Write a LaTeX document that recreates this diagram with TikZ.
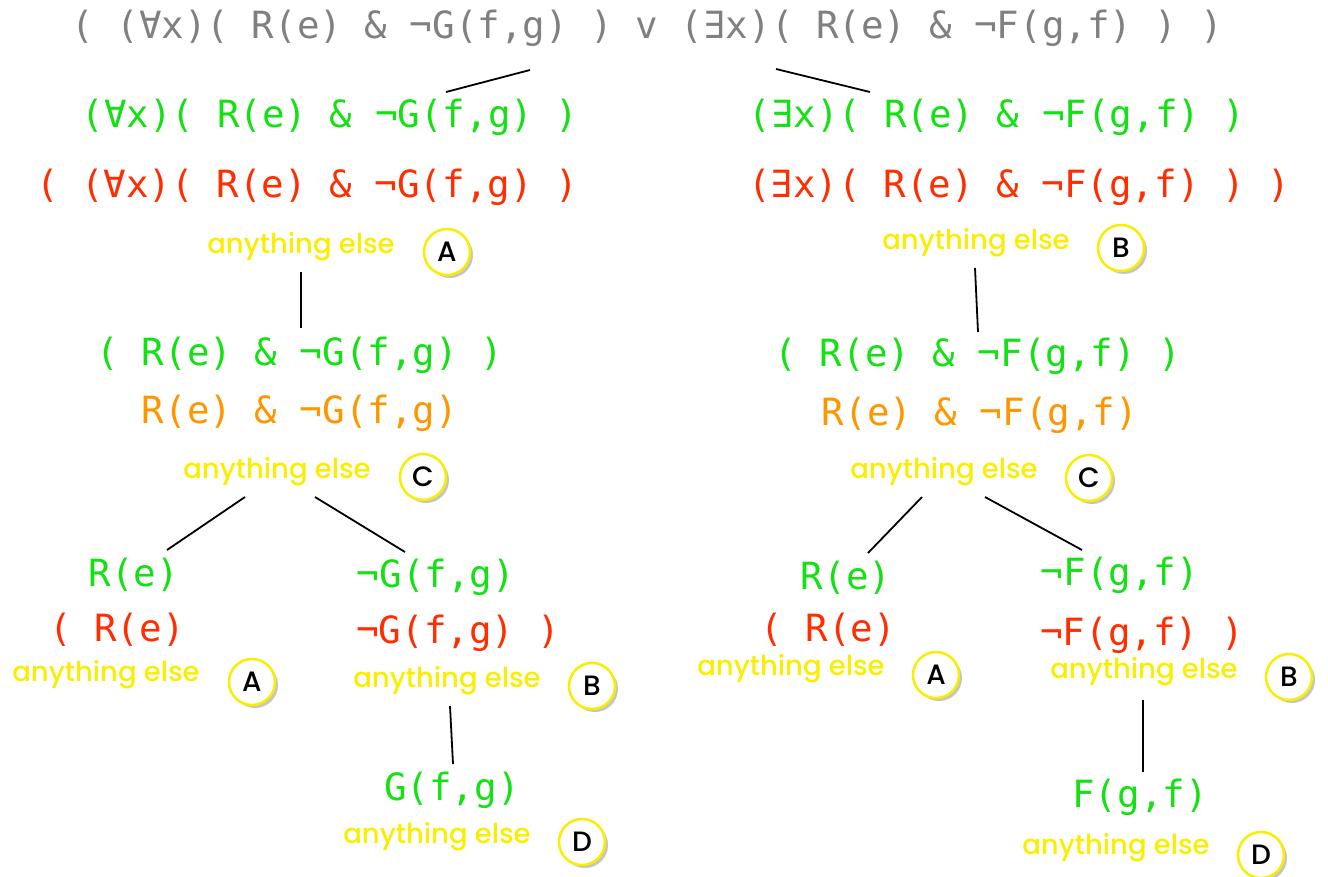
\documentclass[tikz,border=0pt]{standalone}
\usepackage{fontspec}
\setmonofont{DejaVu Sans Mono}
\setsansfont{Poppins Medium}
\usepackage{tikz}
\usetikzlibrary{calc,shadows}
\definecolor{fgray}{RGB}{128,128,128}
\definecolor{fgreen}{RGB}{20,225,20}
\definecolor{fred}{RGB}{255,45,0}
\definecolor{forange}{RGB}{255,150,0}
\definecolor{fyellow}{RGB}{250,238,0}

\begin{document}
\begin{tikzpicture}[
  x=1pt, y=-1pt,
  % -- formula styles --------------------------------------
  formula/.style={inner sep=0pt,
    font=\ttfamily\fontsize{37.5}{40}\selectfont},
  whole/.style={formula, text=fgray},
  goal/.style={formula, text=fgreen},
  rest/.style={formula, text=fred},
  inner/.style={formula, text=forange},
  % -- fallback label and badge ----------------------------
  other/.style={inner sep=0pt, text=fyellow,
    font=\sffamily\fontsize{27.5}{30}\selectfont},
  badge/.style={circle, draw=fyellow, line width=2.5pt, fill=white,
    minimum size=46pt, inner sep=0pt,
    font=\sffamily\fontsize{28}{30}\selectfont,
    drop shadow={shadow xshift=3pt, shadow yshift=-3pt, fill=black!45}},
  % -- tree edges ------------------------------------------
  edge/.style={draw=black, line width=1.8pt},
]
\useasboundingbox (0,0) rectangle (1328,876);

%% -- WHOLE FORMULA -------------------------------------------
\node[whole] (top) at (647,28)
  {( (∀x)( R(e) \& ¬G(f,g) ) v (∃x)( R(e) \& ¬F(g,f) ) )};

%% -- LEFT BRANCH ---------------------------------------------
\node[goal]  (gL)  at (330,117) {(∀x)( R(e) \& ¬G(f,g) )};
\node[rest]  (rL)  at (307,187) {( (∀x)( R(e) \& ¬G(f,g) )};
\node[other] (oL)  at (301,247) {anything else};
\node[badge] (bL)  at (447,252) {A};

\node[goal]  (gL2) at (300,355) {( R(e) \& ¬G(f,g) )};
\node[inner] (iL2) at (300,413) {R(e) \& ¬G(f,g)};
\node[other] (oL2) at (277,472) {anything else};
\node[badge] (bL2) at (423,477) {C};

% R(e) leaf
\node[goal]  (gLa) at (134,575) {R(e)};
\node[rest]  (rLa) at (117,630) {( R(e)};
\node[other] (oLa) at (106,675) {anything else};
\node[badge] (bLa) at (252,682) {A};
% negated G leaf
\node[goal]  (gLb) at (436,577) {¬G(f,g)};
\node[rest]  (rLb) at (458,633) {¬G(f,g) )};
\node[other] (oLb) at (447,681) {anything else};
\node[badge] (bLb) at (592,686) {B};
\node[goal]  (gLc) at (452,790) {G(f,g)};
\node[other] (oLc) at (437,837) {anything else};
\node[badge] (bLc) at (582,842) {D};

%% -- RIGHT BRANCH --------------------------------------------
\node[goal]  (gR)  at (997,117) {(∃x)( R(e) \& ¬F(g,f) )};
\node[rest]  (rR)  at (1019,187) {(∃x)( R(e) \& ¬F(g,f) ) )};
\node[other] (oR)  at (976,243) {anything else};
\node[badge] (bR)  at (1121,248) {B};

\node[goal]  (gR2) at (978,356) {( R(e) \& ¬F(g,f) )};
\node[inner] (iR2) at (980,415) {R(e) \& ¬F(g,f)};
\node[other] (oR2) at (944,472) {anything else};
\node[badge] (bR2) at (1089,478) {C};

% R(e) leaf
\node[goal]  (gRa) at (846,578) {R(e)};
\node[rest]  (rRa) at (828,630) {( R(e)};
\node[other] (oRa) at (791,669) {anything else};
\node[badge] (bRa) at (936,675) {A};
% negated F leaf
\node[goal]  (gRb) at (1120,575) {¬F(g,f)};
\node[rest]  (rRb) at (1142,635) {¬F(g,f) )};
\node[other] (oRb) at (1144,672) {anything else};
\node[badge] (bRb) at (1289,677) {B};
\node[goal]  (gRc) at (1140,797) {F(g,f)};
\node[other] (oRc) at (1116,848) {anything else};
\node[badge] (bRc) at (1261,855) {D};

%% -- EDGES ---------------------------------------------------
\draw[edge] ($(top)+(-117,42)$) -- ($(gL)+(116,-25)$);
\draw[edge] ($(top)+(129,41)$)  -- ($(gR)+(-127,-25)$);
\draw[edge] ($(oL)+(0,25)$)     -- ($(gL2)+(1,-27)$);
\draw[edge] ($(oR)+(-1,25)$)    -- ($(gR2)+(0,-24)$);
\draw[edge] ($(oL2)+(-32,25)$)  -- ($(gLa)+(33,-25)$);
\draw[edge] ($(oL2)+(38,25)$)   -- ($(gLb)+(-31,-25)$);
\draw[edge] ($(oR2)+(-22,25)$)  -- ($(gRa)+(22,-25)$);
\draw[edge] ($(oR2)+(41,25)$)   -- ($(gRb)+(-38,-25)$);
\draw[edge] ($(oLb)+(3,25)$)    -- ($(gLc)+(1,-26)$);
\draw[edge] ($(oRb)+(-1,28)$)   -- ($(gRc)+(3,-25)$);

\end{tikzpicture}
\end{document}
